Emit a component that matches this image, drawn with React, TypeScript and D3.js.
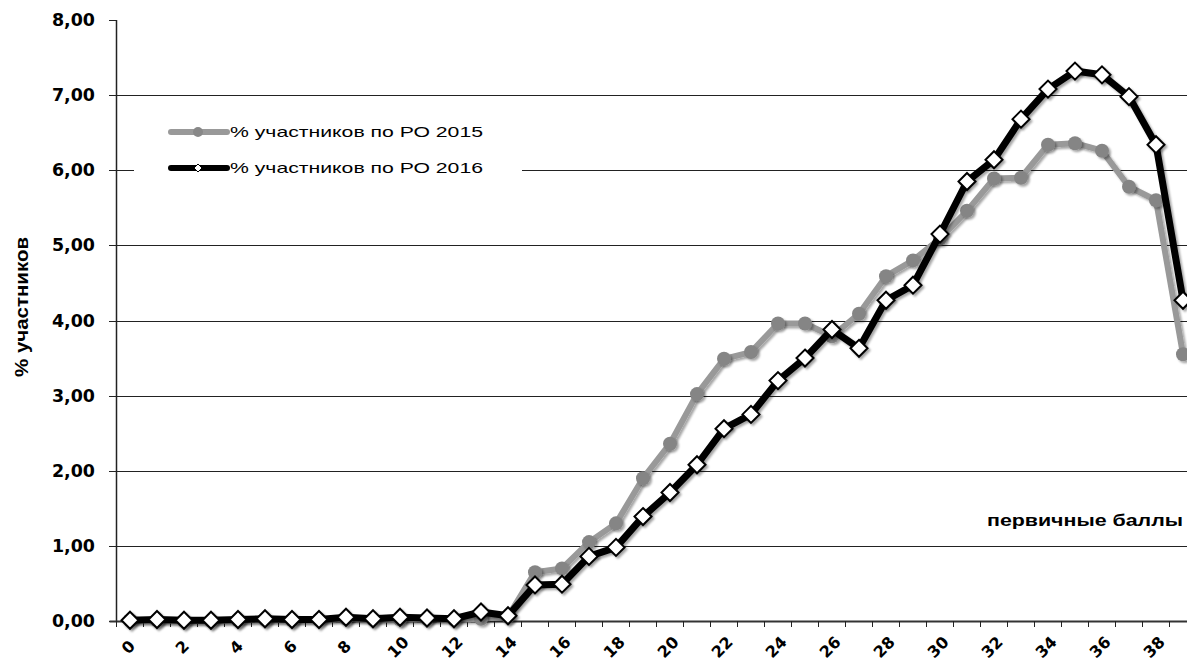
import React from "react";
import * as d3 from "d3";

const categories: number[] = Array.from({ length: 40 }, (_, i) => i);
const series2015: number[] = [
  0.01, 0.01, 0.0, 0.0, 0.01, 0.02, 0.01, 0.02, 0.03, 0.02,
  0.02, 0.03, 0.02, 0.03, 0.06, 0.65, 0.7, 1.05, 1.3, 1.9,
  2.36, 3.02, 3.49, 3.58, 3.96, 3.96, 3.79, 4.09, 4.59, 4.8,
  5.09, 5.46, 5.89, 5.9, 6.34, 6.36, 6.26, 5.78, 5.6, 3.55,
];
const series2016: number[] = [
  0.01, 0.02, 0.01, 0.01, 0.02, 0.03, 0.02, 0.02, 0.05, 0.03,
  0.05, 0.04, 0.03, 0.12, 0.07, 0.48, 0.49, 0.86, 0.98, 1.39,
  1.71, 2.08, 2.56, 2.75, 3.2, 3.5, 3.88, 3.63, 4.27, 4.47,
  5.15, 5.85, 6.14, 6.68, 7.08, 7.32, 7.27, 6.98, 6.34, 4.27,
];
const yTicks: number[] = [0, 1, 2, 3, 4, 5, 6, 7, 8];
const xLabels: number[] = categories.filter((c) => c % 2 === 0);
const legendLabels: string[] = ["% участников по РО 2015", "% участников по РО 2016"];
const yTitle = "% участников";
const xTitle = "первичные баллы";

const W = 1187;
const H = 664;

export default function App() {
  const x = d3
    .scaleBand<number>()
    .domain(categories)
    .range([116.5, 116.5 + 40 * 27])
    .padding(0);
  const y = d3.scaleLinear().domain([0, 8]).range([621, 20]);
  const cx = (d: number) => (x(d) as number) + x.bandwidth() / 2;
  const line = d3
    .line<number>()
    .x((_, i) => cx(categories[i]))
    .y((v) => y(v));
  const fmt = (v: number) => v.toFixed(2).replace(".", ",");
  const lx0 = 116.5;
  const bandEdges = categories.map((c) => x(c) as number).concat([(x(39) as number) + x.bandwidth()]);
  const dsize = 8.5;
  const diamond = (px: number, py: number, s: number) =>
    `M${px},${py - s}L${px + s},${py}L${px},${py + s}L${px - s},${py}Z`;
  const heavy = "'DejaVu Sans', Verdana, sans-serif";

  return (
    <svg
      width={W}
      height={H}
      style={{ position: "absolute", left: 0, top: 0, background: "#fff" }}
      fontFamily="'Liberation Sans', Arial, sans-serif"
    >
      <defs>
        <filter id="sh" x="-50%" y="-50%" width="200%" height="200%">
          <feDropShadow dx="2" dy="2" stdDeviation="1.2" floodColor="#000" floodOpacity="0.35" />
        </filter>
        <clipPath id="clip">
          <rect x={0} y={0} width={W} height={H} />
        </clipPath>
      </defs>
      <rect x={0} y={0} width={W} height={H} fill="#fff" />
      {yTicks
        .filter((t) => t > 0 && t < 8)
        .map((t) => (
          <line key={"g" + t} x1={lx0} x2={W} y1={Math.round(y(t)) + 0.5} y2={Math.round(y(t)) + 0.5} stroke="#222" strokeWidth={1} />
        ))}
      <line x1={lx0} x2={lx0} y1={y(8)} y2={y(0)} stroke="#222" strokeWidth={1.5} />
      {yTicks.map((t) => (
        <g key={"yt" + t}>
          <line x1={109} x2={lx0} y1={Math.round(y(t)) + 0.5} y2={Math.round(y(t)) + 0.5} stroke="#222" strokeWidth={1} />
          <text
            x={95}
            y={y(t)}
            dy="0.36em"
            textAnchor="end"
            fontFamily={heavy}
            fontSize={17}
            fontWeight="bold"
            textLength={43}
            lengthAdjust="spacingAndGlyphs"
            fill="#000"
          >
            {fmt(t)}
          </text>
        </g>
      ))}
      <line x1={lx0 - 7} x2={W} y1={y(0) + 0.5} y2={y(0) + 0.5} stroke="#333" strokeWidth={2} />
      {bandEdges.map((e, i) => (
        <line key={"xt" + i} x1={e} x2={e} y1={y(0)} y2={y(0) + 6} stroke="#222" strokeWidth={1} />
      ))}
      {xLabels.map((c) => (
        <text
          key={"xl" + c}
          transform={`translate(${cx(c) - 2},${647}) rotate(-45)`}
          textAnchor="middle"
          dy="0.36em"
          fontFamily={heavy}
          fontSize={16}
          fontWeight="bold"
          fill="#000"
        >
          {c}
        </text>
      ))}
      <text
        transform={`translate(${22},${307}) rotate(-90)`}
        textAnchor="middle"
        fontSize={18}
        fontWeight="bold"
        dy="0.36em"
        textLength={140}
        lengthAdjust="spacingAndGlyphs"
        fill="#000"
      >
        {yTitle}
      </text>
      <text
        x={1183}
        y={520}
        dy="0.36em"
        textAnchor="end"
        fontSize={16}
        fontWeight="bold"
        textLength={196}
        lengthAdjust="spacingAndGlyphs"
        fill="#000"
      >
        {xTitle}
      </text>
      <rect x={134} y={104} width={388} height={84} fill="#fff" />
      <line x1={171} x2={227} y1={132} y2={132} stroke="#999" strokeWidth={6} strokeLinecap="round" />
      <circle cx={198} cy={132} r={5} fill="#888" />
      <text x={230} y={132} dy="0.36em" fontSize={15} textLength={253} lengthAdjust="spacingAndGlyphs" fill="#000">
        {legendLabels[0]}
      </text>
      <line x1={171} x2={227} y1={168} y2={168} stroke="#000" strokeWidth={6} strokeLinecap="round" />
      <path d={diamond(198, 168, 4)} fill="#fff" stroke="#000" strokeWidth={1} />
      <text x={230} y={168} dy="0.36em" fontSize={15} textLength={253} lengthAdjust="spacingAndGlyphs" fill="#000">
        {legendLabels[1]}
      </text>
      <g clipPath="url(#clip)">
        <path d={line(series2015) || ""} fill="none" stroke="#999" strokeWidth={6} strokeLinejoin="round" filter="url(#sh)" />
        {series2015.map((v, i) => (
          <circle key={"c" + i} cx={cx(categories[i])} cy={y(v)} r={7} fill="#858585" filter="url(#sh)" />
        ))}
        <path d={line(series2016) || ""} fill="none" stroke="#000" strokeWidth={7} strokeLinejoin="round" filter="url(#sh)" />
        {series2016.map((v, i) => (
          <path
            key={"d" + i}
            d={diamond(cx(categories[i]), y(v), dsize)}
            fill="#fff"
            stroke="#000"
            strokeWidth={2}
            filter="url(#sh)"
          />
        ))}
      </g>
    </svg>
  );
}
